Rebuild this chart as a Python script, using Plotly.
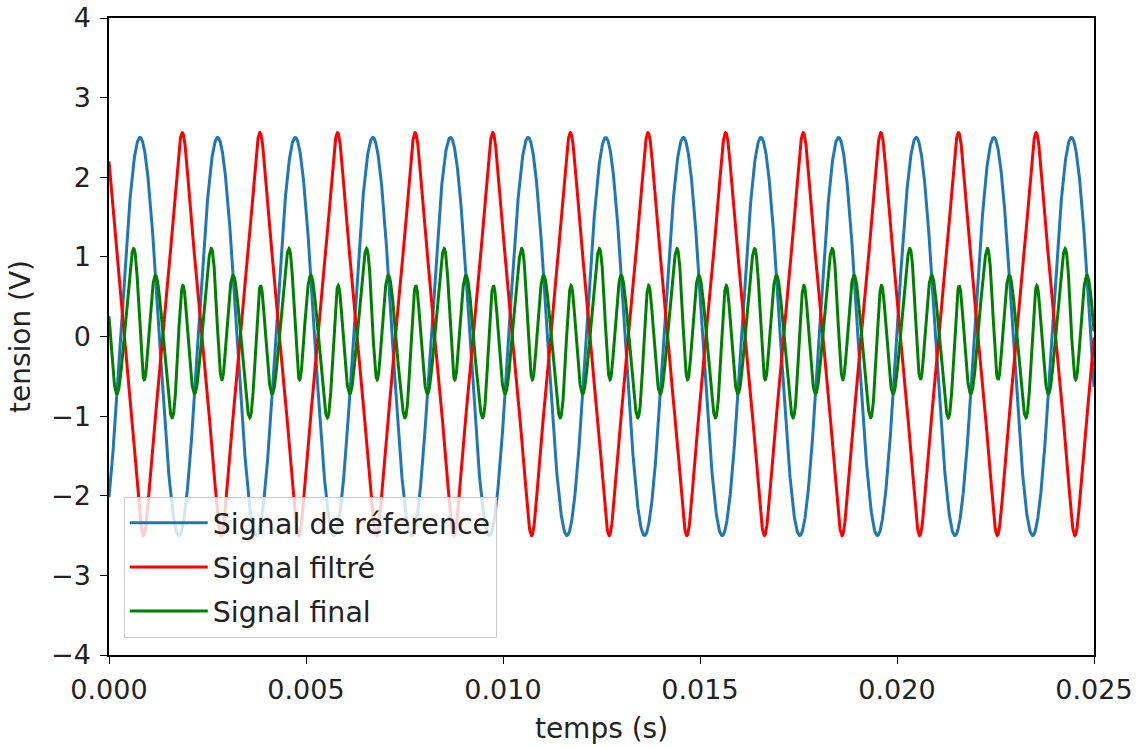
import numpy as np
import plotly.graph_objects as go

# Values
t_range = [0.0, 0.025]                 # temps (s)
period = 0.001970                      # common period of the three signals (s)
ref_amplitude = 2.5                    # Signal de réference (V)
ref_peak_time = 0.000787               # time of a reference maximum (s)
filt_amplitude = 2.53                  # Signal filtré (V), triangle-like
filt_offset = 0.03
filt_peak_time = 0.001860              # time of a filtered-signal maximum (s)
filt_harmonics = [1, 3, 5]
final_offset = 0.036                   # Signal final (V)
final_harmonics = [1, 2, 3, 4, 5, 6, 7]
final_amplitudes = [0.358, 0.027, 0.750, 0.010, 0.158, 0.006, 0.028]
final_phases_deg = [5, -15, 118, 50, 91, 50, 107]

x_tickvals = [0, 0.005, 0.01, 0.015, 0.02, 0.025]
x_ticktext = ["0.000", "0.005", "0.010", "0.015", "0.020", "0.025"]
y_tickvals = [-4, -3, -2, -1, 0, 1, 2, 3, 4]
y_ticktext = ["−4", "−3", "−2", "−1", "0", "1", "2", "3", "4"]
names = ["Signal de réference", "Signal filtré", "Signal final"]
colors = ["#1f77b4", "#ff0000", "#008000"]

t = np.linspace(t_range[0], t_range[1], 4000)
theta = 2*np.pi*(t-ref_peak_time)/period
reference = ref_amplitude*np.cos(theta)

pr = 2*np.pi*(t-filt_peak_time)/period
norm = sum(1/k**2 for k in filt_harmonics)
filtered = filt_offset + filt_amplitude*sum(np.cos(k*pr)/k**2 for k in filt_harmonics)/norm

final = final_offset + sum(a*np.cos(k*theta+np.radians(p))
                           for k, a, p in zip(final_harmonics, final_amplitudes, final_phases_deg))

fig = go.Figure()
for i, (y, n, c) in enumerate(zip([reference, filtered, final], names, colors)):
    fig.add_trace(go.Scatter(x=t, y=y, mode="lines", name=n, legendgroup=f"g{i}",
                             line=dict(color=c, width=3)))

fig.update_layout(
    width=1141, height=747, margin=dict(l=109, r=47, t=18, b=92),
    plot_bgcolor="white", paper_bgcolor="white",
    font=dict(family="DejaVu Sans", size=27, color="#222222"),
    legend=dict(x=0.015, y=0.027, xanchor="left", yanchor="bottom",
                bgcolor="rgba(255,255,255,0.8)", bordercolor="#cccccc", borderwidth=1,
                font=dict(size=28.5), itemwidth=78, tracegroupgap=4),
)
axis_common = dict(showgrid=False, zeroline=False, showline=True, linecolor="black",
                   linewidth=1.5, mirror=True, ticks="outside", ticklen=7, tickcolor="black",
                   automargin=False, ticklabeloverflow="allow")
fig.update_xaxes(range=t_range, tickvals=x_tickvals, ticktext=x_ticktext,
                 ticklabelstandoff=3,
                 title=dict(text="temps (s)", font=dict(size=28), standoff=14), **axis_common)
fig.update_yaxes(range=[-4, 4], tickvals=y_tickvals, ticktext=y_ticktext,
                 ticklabelstandoff=4,
                 title=dict(text="tension (V)", font=dict(size=28), standoff=12), **axis_common)
fig.write_html("out.html")
